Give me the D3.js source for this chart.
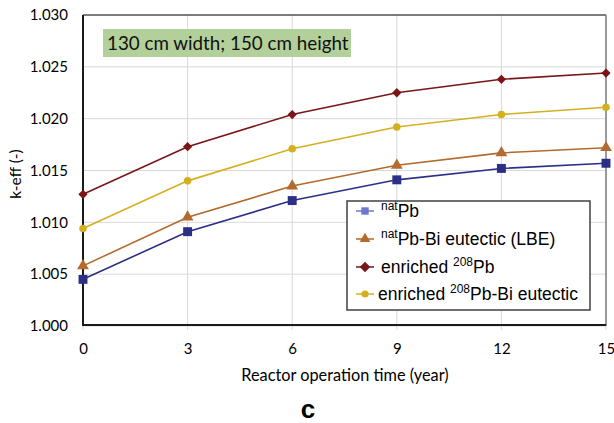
<!DOCTYPE html>
<html>
<head>
<meta charset="utf-8">
<script src="https://cdn.jsdelivr.net/npm/d3@7"></script>
<style>
  html, body { margin: 0; padding: 0; background: #fff; }
  svg { display: block; }
</style>
</head>
<body>
<svg id="chart" width="614" height="423"></svg>
<script>
// Operation time (years) and k-eff for each coolant option
const years = [0, 3, 6, 9, 12, 15];
const natPb = [1.0045, 1.0091, 1.0121, 1.0141, 1.0152, 1.0157];
const natLBE = [1.0058, 1.0105, 1.0135, 1.0155, 1.0167, 1.0172];
const enrPb = [1.0127, 1.0173, 1.0204, 1.0225, 1.0238, 1.0244];
const enrLBE = [1.0094, 1.0140, 1.0171, 1.0192, 1.0204, 1.0211];
const yTicks = [1.000, 1.005, 1.010, 1.015, 1.020, 1.025, 1.030];
const xTicks = [0, 3, 6, 9, 12, 15];

const series = [
  { name: [["nat", true], ["Pb", false]], values: natPb, color: "#2b2f86", legendColor: "#6f79cc", symbol: d3.symbolSquare, size: 80, legendSize: 55 },
  { name: [["nat", true], ["Pb-Bi eutectic (LBE)", false]], values: natLBE, color: "#b46a2c", legendColor: "#b46a2c", symbol: d3.symbolTriangle, size: 60, legendSize: 50 },
  { name: [["enriched ", false], ["208", true], ["Pb", false]], values: enrPb, color: "#7a1518", legendColor: "#7a1518", symbol: d3.symbolDiamond2, size: 55, legendSize: 70 },
  { name: [["enriched ", false], ["208", true], ["Pb-Bi eutectic", false]], values: enrLBE, color: "#d4b020", legendColor: "#d4b020", symbol: d3.symbolCircle, size: 45, legendSize: 40 }
];

const svg = d3.select("#chart");
const plotLeft = 83, plotRight = 606, plotTop = 15, plotBottom = 326;
const labelFont = "Lato, 'Open Sans', sans-serif";
const legendFont = "'Liberation Sans', Arial, sans-serif";

const x = d3.scaleLinear().domain([0, 15]).range([plotLeft, plotRight]);
const y = d3.scaleLinear().domain([1.000, 1.030]).range([plotBottom, plotTop]);

// gridlines
svg.append("g")
  .selectAll("line").data(yTicks).join("line")
  .attr("x1", plotLeft).attr("x2", plotRight)
  .attr("y1", d => y(d)).attr("y2", d => y(d))
  .attr("stroke", "#d9d9d9").attr("stroke-width", 1);
svg.append("g")
  .selectAll("line").data(xTicks).join("line")
  .attr("x1", d => x(d)).attr("x2", d => x(d))
  .attr("y1", plotTop).attr("y2", plotBottom + 4)
  .attr("stroke", "#d9d9d9").attr("stroke-width", 1);

// plot frame: top/right lighter, left/bottom heavy
svg.append("line").attr("x1", plotLeft).attr("x2", plotRight).attr("y1", plotTop).attr("y2", plotTop)
  .attr("stroke", "#595959").attr("stroke-width", 1.5);
svg.append("line").attr("x1", plotRight).attr("x2", plotRight).attr("y1", plotTop).attr("y2", plotBottom)
  .attr("stroke", "#7f7f7f").attr("stroke-width", 1.5);

// axes (labels only, lines drawn separately)
const yAxis = d3.axisLeft(y).tickValues(yTicks).tickFormat(d3.format(".3f")).tickSize(0).tickPadding(15);
const gy = svg.append("g").attr("transform", `translate(${plotLeft},0)`).call(yAxis);
gy.select(".domain").remove();
gy.selectAll("text").attr("font-family", labelFont).attr("font-size", 15).attr("fill", "#000");

const xAxis = d3.axisBottom(x).tickValues(xTicks).tickSize(0).tickPadding(17);
const gx = svg.append("g").attr("transform", `translate(0,${plotBottom})`).call(xAxis);
gx.select(".domain").remove();
gx.selectAll("text").attr("font-family", labelFont).attr("font-size", 15).attr("fill", "#000");

svg.append("line").attr("x1", plotLeft).attr("x2", plotLeft).attr("y1", plotTop).attr("y2", plotBottom)
  .attr("stroke", "#1a1a1a").attr("stroke-width", 2);
svg.append("line").attr("x1", plotLeft).attr("x2", plotRight).attr("y1", plotBottom - 1).attr("y2", plotBottom - 1)
  .attr("stroke", "#1a1a1a").attr("stroke-width", 2);

// axis titles
svg.append("text").attr("x", 345).attr("y", 381).attr("text-anchor", "middle")
  .attr("font-family", labelFont).attr("font-size", 16.3).attr("fill", "#000")
  .text("Reactor operation time (year)");
svg.append("text").attr("transform", `translate(21,174) rotate(-90)`).attr("text-anchor", "middle")
  .attr("font-family", labelFont).attr("font-size", 15.5).attr("fill", "#000")
  .text("k-eff (-)");
svg.append("text").attr("x", 308).attr("y", 418).attr("text-anchor", "middle")
  .attr("font-family", legendFont).attr("font-weight", "bold").attr("font-size", 26).attr("fill", "#000")
  .text("c");

// annotation box
svg.append("rect").attr("x", 103).attr("y", 29).attr("width", 248).attr("height", 28).attr("fill", "#b3d09a");
svg.append("text").attr("x", 107).attr("y", 50)
  .attr("font-family", labelFont).attr("font-size", 18.8).attr("fill", "#111")
  .text("130 cm width; 150 cm height");

// lines and markers
const line = d3.line().x((d, i) => x(years[i])).y(d => y(d));
series.forEach(s => {
  svg.append("path").datum(s.values).attr("d", line)
    .attr("fill", "none").attr("stroke", s.color).attr("stroke-width", 1.6);
  svg.append("g").selectAll("path").data(s.values).join("path")
    .attr("transform", (d, i) => `translate(${x(years[i])},${y(d)})`)
    .attr("d", d3.symbol(s.symbol, s.size))
    .attr("fill", s.color);
});

// legend
const lg = svg.append("g").attr("transform", "translate(347,201)");
lg.append("rect").attr("x", 0).attr("y", 0).attr("width", 243).attr("height", 109)
  .attr("fill", "#fff").attr("stroke", "#404040").attr("stroke-width", 1.5);
const rowY = [10, 38, 66, 93];
const textX = [34, 34, 34, 31];
series.forEach((s, i) => {
  const g = lg.append("g").attr("transform", `translate(0,${rowY[i]})`);
  g.append("line").attr("x1", 9).attr("x2", 27).attr("y1", 0).attr("y2", 0)
    .attr("stroke", s.legendColor).attr("stroke-width", 1.5);
  g.append("path").attr("transform", "translate(18,0)")
    .attr("d", d3.symbol(s.symbol, s.legendSize)).attr("fill", s.legendColor);
  const t = g.append("text").attr("x", textX[i]).attr("y", 6)
    .attr("font-family", legendFont).attr("font-size", 17.5).attr("fill", "#000");
  let prevSup = false;
  s.name.forEach(([txt, sup]) => {
    if (sup) {
      t.append("tspan").attr("font-size", 12).attr("dy", -7).text(txt);
    } else {
      t.append("tspan").attr("dy", prevSup ? 7 : 0).text(txt);
    }
    prevSup = sup;
  });
});
</script>
</body>
</html>
